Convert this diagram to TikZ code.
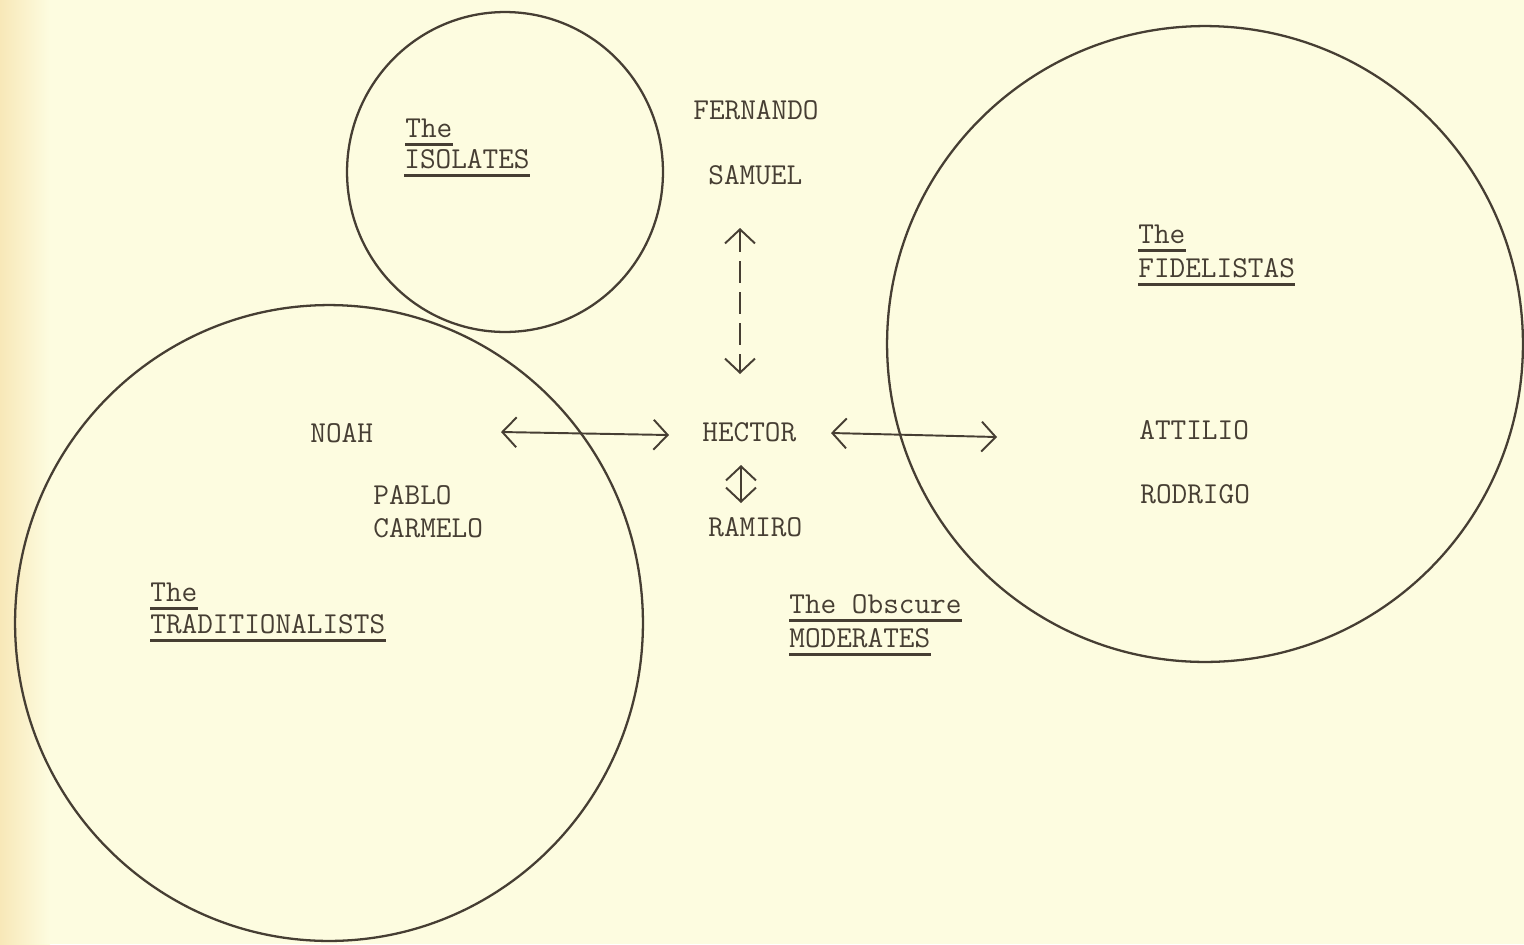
\documentclass[tikz,border=0pt]{standalone}
\usetikzlibrary{arrows.meta}
\definecolor{ink}{HTML}{463E33}
\definecolor{paper}{HTML}{FDFCE0}
\definecolor{edgepaper}{HTML}{F8E8B8}
\begin{document}
\begin{tikzpicture}[x=0.02cm,y=-0.02cm,
  lbl/.style={anchor=base west, inner sep=0pt, text=ink, font=\ttfamily\fontsize{17.3}{19}\selectfont},
  ring/.style={draw=ink, line width=1.3pt},
  link/.style={draw=ink, line width=1.1pt, {Straight Barb[length=8pt,width=17pt]}-{Straight Barb[length=8pt,width=17pt]}},
  uline/.style={draw=ink, line width=1.2pt}]
\useasboundingbox (0,0) rectangle (1524,944);
\fill[paper] (0,0) rectangle (1524,944);
\shade[left color=edgepaper, right color=paper] (0,0) rectangle (50,944);

% circles
\draw[ring] (505,172) ellipse [x radius=3.16cm, y radius=3.2cm];
\draw[ring] (329,623) ellipse [x radius=6.28cm, y radius=6.36cm];
\draw[ring] (1205,344) ellipse [x radius=6.36cm, y radius=6.36cm];

% group titles
\node[lbl] (isoThe) at (405,137) {The};
\node[lbl] (isoName) at (404,168) {ISOLATES};
\node[lbl] (fidThe) at (1138,243) {The};
\node[lbl] (fidName) at (1138,277) {FIDELISTAS};
\node[lbl] (traThe) at (150,601) {The};
\node[lbl] (traName) at (150,633) {TRADITIONALISTS};
\node[lbl] (modThe) at (789,613) {The Obscure};
\node[lbl] (modName) at (789,647) {MODERATES};

\foreach \n in {isoThe,isoName,fidThe,fidName,traThe,traName,modThe,modName}
  \draw[uline] ([yshift=-0.15cm]\n.base west) -- ([yshift=-0.15cm]\n.base east);

% people
\node[lbl] (fernando) at (693,119) {FERNANDO};
\node[lbl] (samuel) at (708,184) {SAMUEL};
\node[lbl] (noah) at (310,442) {NOAH};
\node[lbl] (hector) at (702,441) {HECTOR};
\node[lbl] (attilio) at (1139,439) {ATTILIO};
\node[lbl] (rodrigo) at (1140,503) {RODRIGO};
\node[lbl] (pablo) at (373,504) {PABLO};
\node[lbl] (carmelo) at (373,537) {CARMELO};
\node[lbl] (ramiro) at (708,536) {RAMIRO};

% connector ends
\coordinate (dTop) at (740,228);
\coordinate (dBot) at (740,374);
\coordinate (lA) at (501,432);
\coordinate (lB) at (669,435);
\coordinate (rA) at (831,433);
\coordinate (rB) at (997,437);
\coordinate (sA) at (741,465);
\coordinate (sB) at (741,503);

\draw[link, dash pattern=on 0.44cm off 0.18cm] (dTop) -- (dBot);
\draw[link] (lA) -- (lB);
\draw[link] (rA) -- (rB);
\draw[link] (sA) -- (sB);
\end{tikzpicture}
\end{document}
